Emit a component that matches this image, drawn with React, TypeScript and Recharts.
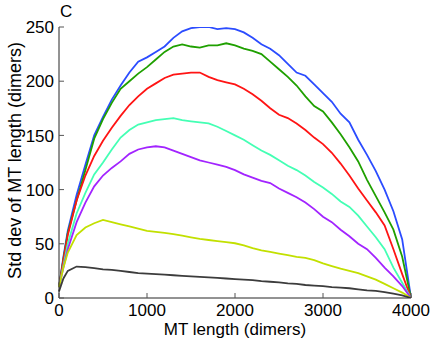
import { LineChart, Line, XAxis, YAxis, Label } from 'recharts'

const lengths = [0, 50, 100, 200, 300, 400, 500, 600, 700, 800, 900, 1000, 1100, 1200, 1300, 1400, 1500, 1600, 1700, 1800, 1900, 2000, 2100, 2200, 2300, 2400, 2500, 2600, 2700, 2800, 2900, 3000, 3100, 3200, 3300, 3400, 3500, 3600, 3700, 3800, 3900, 4000]

const blueSd = [10, 38, 62, 95, 123, 150, 167, 183, 196, 208, 218, 222, 227, 232, 240, 246, 249, 250, 250, 248, 249, 248, 245, 240, 234, 230, 224, 216, 208, 205, 197, 189, 181, 170, 162, 146, 132, 117, 100, 80, 54, 0]
const greenSd = [10, 36, 60, 90, 118, 147, 165, 180, 193, 200, 207, 213, 220, 227, 232, 234, 232, 231, 233, 233, 235, 233, 230, 228, 225, 218, 211, 204, 196, 186, 177, 172, 162, 151, 139, 126, 109, 94, 79, 63, 38, 0]
const redSd = [10, 35, 58, 90, 113, 131, 145, 157, 168, 178, 186, 193, 198, 203, 206, 207, 208, 208, 204, 201, 199, 197, 193, 188, 182, 175, 169, 166, 161, 155, 148, 142, 134, 124, 113, 101, 90, 79, 67, 45, 22, 0]
const cyanSd = [10, 30, 50, 78, 97, 114, 125, 137, 148, 155, 160, 162, 164, 165, 166, 164, 163, 162, 161, 158, 154, 150, 146, 141, 136, 132, 127, 122, 118, 113, 107, 102, 96, 89, 84, 76, 66, 56, 45, 28, 14, 0]
const purpleSd = [10, 28, 45, 70, 88, 103, 113, 120, 126, 133, 137, 139, 140, 139, 136, 133, 130, 127, 125, 123, 121, 118, 114, 111, 108, 106, 101, 97, 93, 88, 82, 75, 70, 63, 57, 50, 45, 37, 28, 20, 11, 0]
const yellowSd = [10, 28, 42, 58, 65, 69, 72, 70, 68, 66, 64, 62, 61, 60, 59, 57.5, 56, 54.5, 53.5, 52.5, 51.5, 50.5, 48.5, 46, 44, 42.5, 41, 39.5, 38, 37, 35, 32, 29.5, 27, 25, 23, 20, 17, 13, 9, 5, 0]
const graySd = [6, 18, 25, 29, 28.5, 27.5, 26.5, 26, 25, 24, 23, 22.5, 22, 21.5, 21, 20.5, 20, 19.5, 19, 18.5, 18, 17.5, 17, 16.5, 15.5, 15, 14.5, 13.5, 13, 12, 11.5, 11, 10, 9.5, 9, 8, 7, 6.5, 5.5, 4, 2.5, 0]

const xTicks = [0, 1000, 2000, 3000, 4000]
const yTicks = [0, 50, 100, 150, 200, 250]

const series = [
  { key: 'blue', values: blueSd, color: '#2b4cff' },
  { key: 'green', values: greenSd, color: '#1fa000' },
  { key: 'red', values: redSd, color: '#ff1414' },
  { key: 'cyan', values: cyanSd, color: '#44ffb4' },
  { key: 'purple', values: purpleSd, color: '#a224ff' },
  { key: 'yellow', values: yellowSd, color: '#c2e000' },
  { key: 'gray', values: graySd, color: '#3c3c3c' },
]

const data = lengths.map((x, i) => {
  const row: Record<string, number> = { x }
  series.forEach((s) => {
    row[s.key] = s.values[i]
  })
  return row
})

const font = '"Liberation Sans", Arial, Helvetica, sans-serif'
const axisColor = '#262626'
const tickColor = '#555'

const BottomTick = (props: any) => {
  const { x, y, payload } = props
  return (
    <g>
      <line x1={x} x2={x} y1={y} y2={y - 5} stroke={tickColor} />
      <text x={x} y={y + 18} textAnchor="middle" fontSize={17} fontFamily={font} fill="#000">
        {payload.value}
      </text>
    </g>
  )
}

const TopTick = (props: any) => {
  const { x, y } = props
  return <line x1={x} x2={x} y1={y} y2={y + 5} stroke={tickColor} />
}

const LeftTick = (props: any) => {
  const { x, y, payload } = props
  return (
    <g>
      <line x1={x} x2={x + 5} y1={y} y2={y} stroke={tickColor} />
      <text x={x - 5} y={y} dy="0.36em" textAnchor="end" fontSize={17} fontFamily={font} fill="#000">
        {payload.value}
      </text>
    </g>
  )
}

const RightTick = (props: any) => {
  const { x, y } = props
  return <line x1={x} x2={x - 5} y1={y} y2={y} stroke={tickColor} />
}

export default function App() {
  return (
    <div style={{ position: 'fixed', left: 0, top: 0, width: 436, height: 342, background: '#fff' }}>
      <LineChart
        width={436}
        height={342}
        data={data}
        margin={{ top: 27, right: 25, bottom: 0, left: 0 }}
        style={{ fontFamily: font }}
      >
        <XAxis
          dataKey="x"
          type="number"
          domain={[0, 4000]}
          ticks={xTicks}
          height={44}
          tickSize={0}
          tickMargin={0}
          tickLine={false}
          tick={<BottomTick />}
          stroke={axisColor}
          interval={0}
        >
          <Label
            value="MT length (dimers)"
            position="insideBottom"
            offset={7}
            style={{ fontSize: 17, fill: '#000', fontFamily: font }}
          />
        </XAxis>
        <XAxis
          xAxisId="top"
          orientation="top"
          dataKey="x"
          type="number"
          domain={[0, 4000]}
          ticks={xTicks}
          height={0}
          tickSize={0}
          tickMargin={0}
          tickLine={false}
          tick={<TopTick />}
          stroke={axisColor}
          interval={0}
        />
        <YAxis
          type="number"
          domain={[0, 250]}
          ticks={yTicks}
          width={59}
          tickSize={0}
          tickMargin={0}
          tickLine={false}
          tick={<LeftTick />}
          stroke={axisColor}
          interval={0}
          allowDataOverflow
        >
          <Label
            value="Std dev of MT length (dimers)"
            angle={-90}
            position="insideLeft"
            offset={15}
            dy={-2}
            style={{ fontSize: 18, fill: '#000', fontFamily: font, textAnchor: 'middle' }}
          />
        </YAxis>
        <YAxis
          yAxisId="right"
          orientation="right"
          type="number"
          domain={[0, 250]}
          ticks={yTicks}
          width={0}
          tickSize={0}
          tickMargin={0}
          tickLine={false}
          tick={<RightTick />}
          stroke={axisColor}
          interval={0}
        />
        {series.map((s) => (
          <Line
            key={s.key}
            dataKey={s.key}
            type="linear"
            stroke={s.color}
            strokeWidth={1.8}
            dot={false}
            activeDot={false}
            isAnimationActive={false}
          />
        ))}
      </LineChart>
      <div
        style={{
          position: 'absolute',
          left: 60,
          top: 3,
          fontSize: 17,
          lineHeight: '17px',
          fontFamily: font,
          color: '#000',
        }}
      >
        C
      </div>
    </div>
  )
}
